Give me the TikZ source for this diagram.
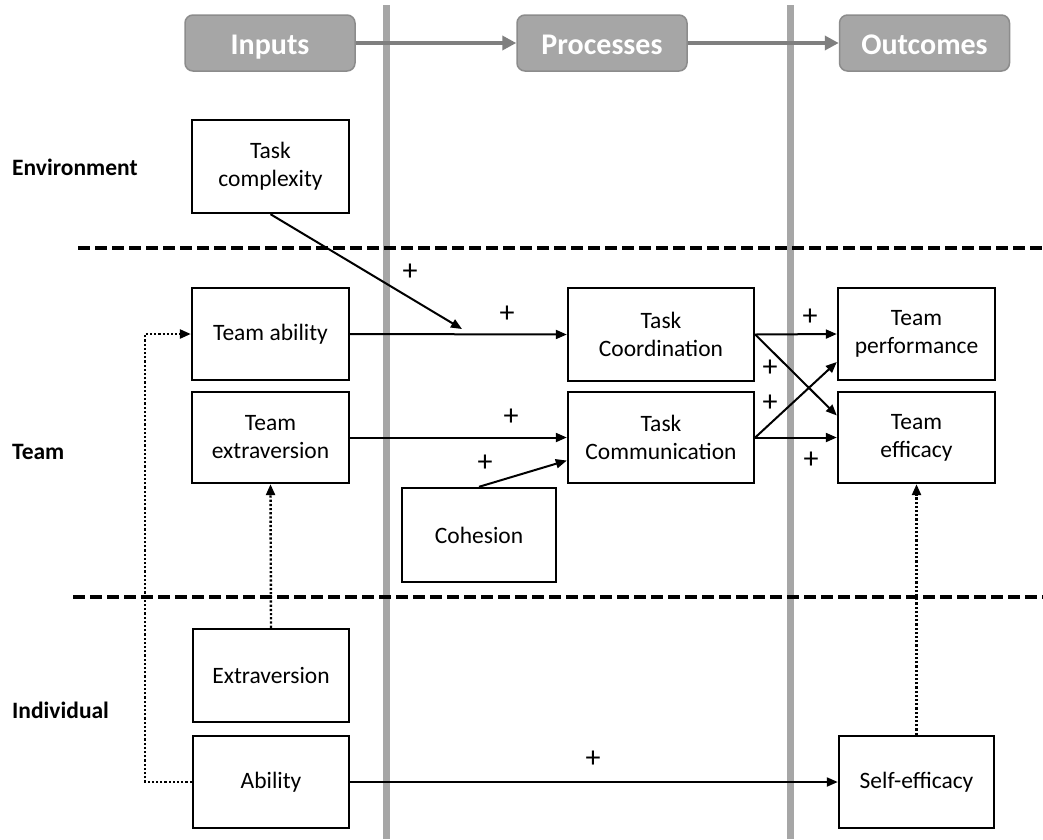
\documentclass[tikz,border=0pt]{standalone}
\usepackage{fontspec}
\setmainfont{Carlito}
\usetikzlibrary{arrows.meta,calc}
\definecolor{hdrfill}{HTML}{A6A6A6}
\definecolor{hdrdraw}{HTML}{8C8C8C}
\definecolor{hdrarrow}{HTML}{7F7F7F}
\definecolor{vline}{HTML}{A6A6A6}
\tikzset{
  box/.style={draw=black, line width=2.4pt, minimum width=157pt, minimum height=92pt,
    align=center, inner sep=2pt, font=\fontsize{23.5}{28}\selectfont},
  hdr/.style={draw=hdrdraw, fill=hdrfill, line width=1.5pt, rounded corners=8pt,
    minimum width=170pt, minimum height=56pt, text=white, text height=22pt, text depth=0pt,
    font=\fontsize{30}{34}\selectfont\bfseries},
  hdrarr/.style={draw=hdrarrow, line width=4.5pt, -{Triangle[length=14pt,width=14pt]}},
  lane/.style={draw=vline, line width=7pt},
  sep/.style={draw=black, line width=3.5pt, dash pattern=on 12pt off 5pt},
  arr/.style={draw=black, line width=2pt, -{Triangle[length=11pt,width=9pt]}},
  dotarr/.style={draw=black, line width=2.4pt, dash pattern=on 2.2pt off 2pt,
    -{Triangle[length=11pt,width=9pt]}},
  plus/.style={font=\fontsize{30}{34}\selectfont, inner sep=0pt},
  rowlab/.style={anchor=west, inner sep=0pt, font=\fontsize{23.5}{28}\selectfont\bfseries}
}
\begin{document}
\begin{tikzpicture}[x=1pt,y=-1pt]
\useasboundingbox (0,0) rectangle (1043,839);
\fill[white] (0,0) rectangle (1043,839);

% swim-lane vertical lines
\coordinate (v1t) at (386,5);
\coordinate (v1b) at (386,839);
\coordinate (v2t) at (790,5);
\coordinate (v2b) at (790,839);
\draw[lane] (v1t) -- (v1b);
\draw[lane] (v2t) -- (v2b);

% header
\node[hdr] (hin) at (270,43) {Inputs};
\node[hdr] (hpr) at (602,43) {Processes};
\node[hdr] (hout) at (924.5,43) {Outcomes};
\draw[hdrarr] (hin.east) -- (hpr.west);
\draw[hdrarr] (hpr.east) -- (hout.west);

% separators
\coordinate (s1a) at (78,248);
\coordinate (s1b) at (1043,248);
\coordinate (s2a) at (73,597);
\coordinate (s2b) at (1043,597);
\draw[sep] (s1a) -- (s1b);
\draw[sep] (s2a) -- (s2b);

% row labels
\node[rowlab] (lenv) at (12,167) {Environment};
\node[rowlab] (lteam) at (12,452) {Team};
\node[rowlab] (lind) at (12,710) {Individual};

% boxes
\node[box, minimum height=93pt] (tc) at (270.5,166.5) {Task\\complexity};
\node[box] (ta) at (270.5,334) {Team ability};
\node[box, minimum height=91pt] (te) at (270.5,437.5) {Team\\extraversion};
\node[box, minimum width=186pt, minimum height=93pt] (coord) at (661,334.5) {Task\\Coordination};
\node[box, minimum width=186pt, minimum height=91pt] (comm) at (661,437.5) {Task\\Communication};
\node[box] (perf) at (916.5,334) {Team\\performance};
\node[box, minimum height=91pt] (eff) at (916.5,437.5) {Team\\efficacy};
\node[box, minimum width=154pt, minimum height=94pt] (coh) at (479,535) {Cohesion};
\node[box, minimum width=156pt, minimum height=93pt] (ext) at (271,675.5) {Extraversion};
\node[box, minimum width=156pt] (abil) at (271,782) {Ability};
\node[box, minimum width=155pt] (self) at (916.5,782) {Self-efficacy};

% solid arrows
\coordinate (mod) at (462,329);
\draw[arr] (tc.south) -- (mod);
\draw[arr] (ta.east) -- (coord.west);
\draw[arr] (te.east) -- (comm.west);
\draw[arr] (coh.north) -- ([yshift=-23pt]comm.west);
\draw[arr] (coord.east) -- (perf.west);
\draw[arr] (coord.east) -- ([yshift=22pt]eff.west);
\draw[arr] (comm.east) -- ([yshift=-28pt]perf.west);
\draw[arr] (comm.east) -- (eff.west);
\draw[arr] (abil.east) -- (self.west);

% dotted arrows
\coordinate (dl) at (145,782);
\draw[dotarr] (abil.west) -- (dl) |- (ta.west);
\draw[dotarr] (ext.north) -- (te.south);
\draw[dotarr] (self.north) -- (eff.south);

% plus labels
\node[plus] (p1) at (410,272) {+};
\node[plus] (p2) at (507,314) {+};
\node[plus] (p3) at (511,417) {+};
\node[plus] (p4) at (485,463) {+};
\node[plus] (p5) at (810,317) {+};
\node[plus] (p6) at (770,368) {+};
\node[plus] (p7) at (770,403) {+};
\node[plus] (p8) at (811,460) {+};
\node[plus] (p9) at (593,759) {+};
\end{tikzpicture}
\end{document}
